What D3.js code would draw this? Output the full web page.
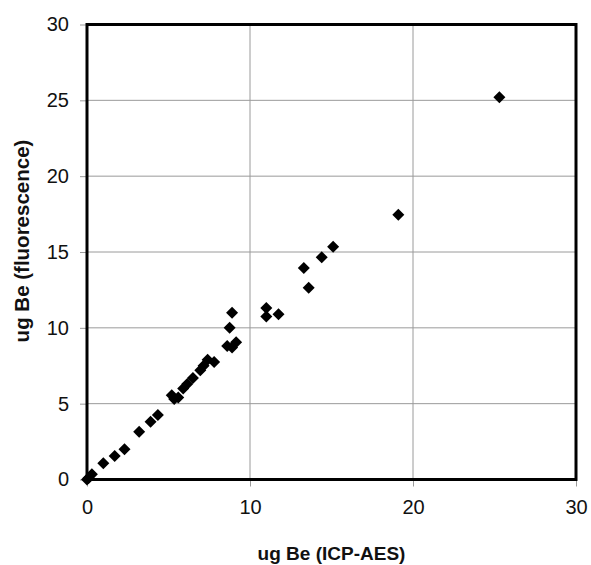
<!DOCTYPE html>
<html>
<head>
<meta charset="utf-8">
<script src="https://cdn.jsdelivr.net/npm/d3@7"></script>
<style>
  body { margin: 0; background: #fff; }
  svg { font-family: "Liberation Sans", Arial, sans-serif; }
</style>
</head>
<body>
<div id="chart"></div>
<script>
// ICP-AES vs fluorescence, ug Be
var icpValues = [0, 0.1, 0.3, 1.0, 1.7, 2.3, 3.2, 3.9, 4.35,
  5.2, 5.35, 5.6, 5.9, 6.15, 6.5, 6.95, 7.15, 7.4, 7.8,
  8.6, 8.75, 8.9, 8.9, 9.15,
  11.0, 11.0, 11.75, 13.3, 13.6, 14.4, 15.1, 19.1, 25.3];
var fluorValues = [0, 0.1, 0.35, 1.07, 1.55, 2.0, 3.15, 3.8, 4.25,
  5.55, 5.3, 5.4, 6.0, 6.3, 6.7, 7.2, 7.5, 7.9, 7.75,
  8.8, 10.0, 11.0, 8.7, 9.05,
  11.3, 10.75, 10.9, 13.95, 12.65, 14.65, 15.35, 17.45, 25.2];
var xTicks = [0, 10, 20, 30];
var yTicks = [0, 5, 10, 15, 20, 25, 30];

var width = 591, height = 565;
var margin = { top: 24.5, right: 15, bottom: 85.5, left: 87 };

var svg = d3.select("#chart").append("svg")
  .attr("width", width)
  .attr("height", height);

var x = d3.scaleLinear().domain([0, 30]).range([margin.left, width - margin.right]);
var y = d3.scaleLinear().domain([0, 30]).range([height - margin.bottom, margin.top]);

// gridlines
svg.append("g")
  .selectAll("line.vg")
  .data(xTicks.slice(1, -1))
  .enter().append("line")
  .attr("x1", function(d) { return x(d); })
  .attr("x2", function(d) { return x(d); })
  .attr("y1", y(0)).attr("y2", y(30))
  .attr("stroke", "#9a9a9a").attr("stroke-width", 1);

svg.append("g")
  .selectAll("line.hg")
  .data(yTicks.slice(1, -1))
  .enter().append("line")
  .attr("y1", function(d) { return y(d); })
  .attr("y2", function(d) { return y(d); })
  .attr("x1", x(0)).attr("x2", x(30))
  .attr("stroke", "#9a9a9a").attr("stroke-width", 1);

// axes
var xAxis = svg.append("g")
  .attr("transform", "translate(0," + y(0) + ")")
  .call(d3.axisBottom(x).tickValues(xTicks).tickSize(7).tickPadding(13));
var yAxis = svg.append("g")
  .attr("transform", "translate(" + x(0) + ",0)")
  .call(d3.axisLeft(y).tickValues(yTicks).tickSize(7).tickPadding(11));

[xAxis, yAxis].forEach(function(g) {
  g.select(".domain").remove();
  g.selectAll(".tick line").attr("stroke", "#9a9a9a");
  g.selectAll(".tick text")
    .attr("font-family", "Liberation Sans, Arial, sans-serif")
    .attr("font-size", 20)
    .attr("fill", "#111");
});

// plot frame
svg.append("rect")
  .attr("x", x(0)).attr("y", y(30))
  .attr("width", x(30) - x(0))
  .attr("height", y(0) - y(30))
  .attr("fill", "none")
  .attr("stroke", "#000")
  .attr("stroke-width", 3);

// points
var diamond = d3.symbol().type(d3.symbolSquare).size(72);
svg.append("g")
  .selectAll("path")
  .data(icpValues)
  .enter().append("path")
  .attr("d", diamond)
  .attr("transform", function(d, i) {
    return "translate(" + x(d) + "," + y(fluorValues[i]) + ") rotate(45)";
  })
  .attr("fill", "#000");

// titles
svg.append("text")
  .attr("x", (x(0) + x(30)) / 2)
  .attr("y", 560)
  .attr("text-anchor", "middle")
  .attr("font-size", 19)
  .attr("font-weight", "bold")
  .attr("fill", "#111")
  .text("ug Be (ICP-AES)");

svg.append("text")
  .attr("transform", "translate(29,241) rotate(-90)")
  .attr("text-anchor", "middle")
  .attr("font-size", 20.5)
  .attr("font-weight", "bold")
  .attr("fill", "#111")
  .text("ug Be (fluorescence)");
</script>
</body>
</html>
